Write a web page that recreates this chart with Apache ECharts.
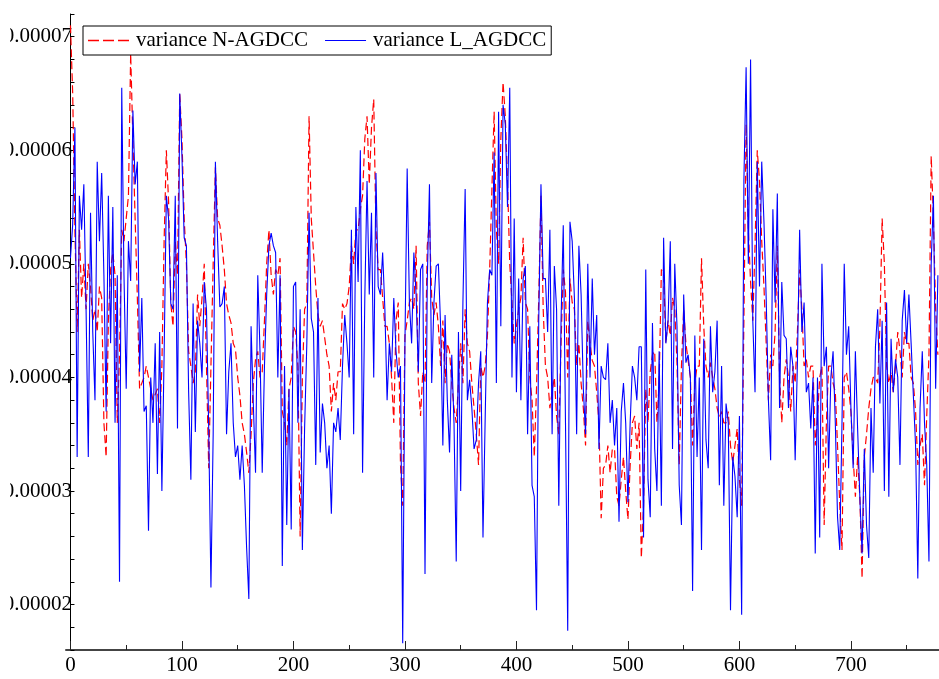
<!DOCTYPE html>
<html>
<head>
<meta charset="utf-8">
<script src="https://cdn.jsdelivr.net/npm/echarts@6/dist/echarts.min.js"></script>
<style>
  html, body { margin: 0; padding: 0; background: #fff; overflow: hidden; }
  #chart { width: 939px; height: 679px; }
</style>
</head>
<body>
<div id="chart"></div>
<script>
// values, in units of 1e-5, one every 2 samples (x = 0, 2, 4, ... 778)
const varianceN = [
  7.1, 6.5, 5.3, 4.4, 5.3, 4.7, 5.0, 4.6, 5.0, 4.8, 4.5, 4.6, 4.4, 4.8, 4.7, 3.6, 3.3, 4.5, 4.95, 5.1,
  4.9, 3.6, 4.2, 5.3, 5.2, 5.4, 5.6, 6.85, 6.1, 5.4, 4.7, 3.9, 3.95, 4.0, 4.1, 4.0, 3.9, 3.8, 3.85, 3.9,
  3.6, 4.1, 5.2, 6.0, 5.55, 4.65, 4.45,
  5.2, 4.9, 6.5, 6.1, 5.4, 5.0, 4.23, 4.1, 3.95, 4.05, 4.73, 4.45, 4.7, 5.0, 4.1, 3.2, 4.1, 5.0, 5.85, 5.4,
  5.34, 5.16, 4.95, 4.65, 4.55, 4.48, 4.3, 4.25, 4.0, 3.84, 3.6, 3.5, 3.34, 3.16, 3.5, 3.95, 4.16, 4.23, 4.0, 4.05,
  4.5, 5.0, 5.3, 4.9, 4.73, 4.95, 4.9, 5.05, 3.7, 3.6,
  3.4, 3.9, 4.0, 4.45, 4.4, 4.1, 2.6, 4.0, 4.6, 4.65, 6.3, 5.4, 5.1, 4.8, 4.55, 4.45, 4.5, 4.35, 4.2, 4.1,
  3.7, 3.95, 3.8, 4.05, 4.05, 4.65, 4.6, 4.65, 4.8, 5.16, 5.0, 5.3, 5.3, 5.48, 5.6, 6.1, 6.3, 5.7, 6.2, 6.45,
  5.3, 4.95, 4.95, 4.7, 4.45, 4.45, 4.3, 4.0, 3.6,
  4.5, 4.66, 3.23, 2.87, 4.37, 4.5, 4.66, 4.7, 4.6, 5.16, 3.95, 3.66, 4.05, 3.95, 5.16, 5.37, 4.7, 4.55, 4.66, 4.45,
  4.1, 4.5, 3.95, 4.3, 4.23, 3.95, 3.73, 3.6, 3.95, 4.3, 3.95, 4.6, 4.3, 4.23, 3.95, 3.73, 3.5, 3.23, 4.1, 4.0,
  4.1, 4.37, 4.95, 5.66, 6.34, 5.3, 5.0, 6.1, 6.6,
  6.3, 5.73, 5.0, 4.66, 4.3, 4.45, 4.6, 4.7, 5.23, 4.66, 4.6, 4.0, 3.8, 3.3, 3.9, 4.7, 5.6, 4.6, 4.1, 4.0,
  3.73, 3.87, 4.0, 3.66, 3.5, 4.3, 4.95, 4.75, 4.0, 4.87, 4.66, 4.6, 4.1, 4.3, 3.95, 3.73, 3.4, 4.5, 4.3, 4.15,
  4.1, 3.87, 3.6, 2.76, 3.2, 3.23, 3.4, 3.16, 3.37, 3.37,
  2.95, 2.87, 3.1, 3.3, 3.0, 2.75, 3.23, 3.6, 3.66, 3.37, 3.6, 2.41, 2.87, 3.9, 3.6, 4.05, 4.2, 4.23, 3.6, 3.95,
  4.95, 4.9, 4.3, 4.5, 4.37, 4.7, 4.6, 4.13, 3.23, 4.1, 4.6, 4.3, 4.15, 4.0, 3.4, 3.95, 4.1, 4.1, 5.05, 4.45,
  4.1, 4.0, 4.13, 4.0, 3.9, 3.73, 3.65, 3.7, 3.6,
  3.6, 3.7, 3.4, 3.25, 3.4, 3.55, 3.1, 2.87, 4.5, 6.23, 5.3, 4.84, 4.5, 5.16, 6.0, 5.73, 5.2, 4.8, 4.3, 3.8,
  4.2, 4.1, 4.4, 5.16, 4.0, 3.6, 4.0, 4.16, 4.0, 3.7, 4.1, 3.95, 4.4, 4.95, 4.6, 4.1, 4.16, 4.0, 4.1, 4.1,
  3.4, 3.65, 4.0, 4.1, 2.7, 3.6, 4.1, 4.1, 3.95,
  3.87, 3.4, 2.87, 2.48, 4.0, 4.05, 3.9, 3.7, 3.3, 2.95, 3.3, 2.95, 2.23, 3.3, 3.5, 3.73, 3.9, 4.0, 4.0, 3.95,
  4.45, 5.4, 5.0, 4.1, 3.95, 4.05, 3.87, 4.1, 4.4, 4.23, 4.0, 4.4, 4.3, 4.3, 4.0, 3.95, 3.7, 3.23, 3.4, 3.5,
  3.05, 3.66, 4.2, 5.95, 5.4, 4.6, 4.2
];

const varianceL = [
  5.05, 5.35, 6.2, 3.3, 5.6, 5.3, 5.7, 4.6, 3.3, 5.45, 4.4, 3.8, 5.9, 5.2, 5.8, 4.9, 3.7, 5.6, 4.3, 5.5,
  3.6, 4.9, 2.2, 6.55, 4.9, 3.9, 5.2, 4.85, 6.35, 5.7, 5.9, 4.05, 4.7, 3.7, 3.75, 2.65, 4.0, 3.6, 4.3, 3.15,
  4.4, 3.0, 4.2, 5.6, 5.4, 4.65, 4.6,
  5.6, 3.55, 6.5, 5.95, 5.23, 5.16, 3.87, 3.1, 4.65, 3.52, 4.5, 4.3, 4.0, 4.84, 4.6, 3.55, 2.15, 3.5, 5.9, 5.2,
  4.62, 4.65, 4.8, 3.5, 4.05, 4.3, 3.6, 3.3, 3.4, 3.1, 3.4, 3.05, 2.5, 2.05, 4.45, 3.77, 3.16, 4.9, 4.23, 3.16,
  4.1, 4.73, 5.16, 5.27, 5.16, 5.1, 4.0, 4.9, 2.34, 4.1,
  2.7, 3.9, 2.66, 4.8, 4.84, 3.6, 4.6, 2.48, 3.55, 4.3, 5.45, 4.52, 4.4, 3.23, 4.7, 3.34, 3.77, 3.6, 3.2, 3.4,
  2.8, 3.6, 3.52, 3.73, 3.45, 4.1, 4.55, 4.3, 4.0, 5.3, 3.5, 5.5, 4.84, 6.0, 3.16, 4.7, 5.73, 4.73, 5.45, 4.0,
  5.8, 4.8, 4.73, 5.1, 4.6, 3.8, 4.3, 4.05, 4.7,
  4.23, 4.0, 4.1, 1.66, 4.3, 5.84, 4.66, 4.3, 5.1, 4.73, 4.05, 4.95, 5.0, 2.27, 4.84, 5.7, 3.95, 4.66, 4.98, 5.0,
  4.45, 3.4, 4.55, 3.8, 3.34, 4.2, 3.6, 2.38, 4.4, 3.0, 4.66, 5.66, 3.8, 3.98, 3.73, 3.37, 3.45, 3.95, 4.23, 2.59,
  3.66, 4.66, 4.95, 4.9, 5.98, 3.95, 6.34, 4.45, 6.4,
  6.23, 5.5, 6.55, 4.0, 5.4, 3.87, 4.87, 3.8, 4.87, 4.98, 3.5, 4.45, 3.05, 2.95, 1.95, 4.5, 5.7, 4.87, 4.87, 4.4,
  5.3, 3.5, 4.98, 4.6, 2.87, 4.5, 5.34, 3.6, 1.77, 5.37, 5.2, 4.7, 3.5, 5.16, 4.73, 3.9, 3.5, 5.0, 4.0, 4.87,
  4.2, 4.55, 3.37, 4.1, 4.0, 3.98, 4.3, 3.6, 3.8, 3.4,
  3.73, 2.73, 3.7, 3.95, 3.6, 2.9, 3.6, 4.1, 4.0, 3.8, 4.27, 4.27, 2.59, 4.95, 3.1, 2.77, 4.48, 3.37, 3.0, 4.23,
  2.87, 5.23, 4.3, 4.5, 5.2, 3.37, 5.0, 4.45, 3.05, 2.7, 4.73, 4.13, 4.2, 4.0, 2.12, 4.37, 3.3, 4.0, 2.48, 4.34,
  3.45, 3.2, 4.45, 3.87, 4.05, 4.5, 3.05, 4.1, 2.87,
  3.77, 3.6, 1.95, 3.3, 3.13, 2.77, 3.66, 1.91, 5.73, 6.73, 5.0, 6.8, 4.5, 3.87, 5.9, 4.8, 5.9, 5.37, 4.7, 3.8,
  3.27, 5.48, 4.66, 5.62, 3.73, 4.84, 4.37, 4.34, 3.73, 4.27, 4.1, 3.27, 4.13, 5.3, 4.4, 4.66, 3.87, 3.95, 3.55, 4.0,
  2.45, 4.0, 2.59, 5.0, 4.1, 4.27, 3.2, 4.0, 4.23,
  3.6, 2.77, 2.48, 3.6, 5.0, 4.2, 4.45, 3.73, 3.2, 4.23, 3.55, 2.95, 2.45, 3.37, 2.7, 2.41, 3.73, 3.16, 4.27, 4.6,
  3.77, 4.5, 3.0, 4.66, 2.95, 4.34, 3.87, 4.16, 4.0, 3.23, 4.5, 4.77, 4.3, 4.73, 4.3, 3.84, 3.4, 2.23, 3.73, 4.23,
  3.6, 3.23, 2.38, 5.0, 5.6, 3.9, 4.9
];

const xLabels = [0, 100, 200, 300, 400, 500, 600, 700];
const xMinorTicks = [50, 150, 250, 350, 450, 550, 650, 750];
const seriesNames = ['variance N-AGDCC', 'variance L_AGDCC'];

const toPairs = arr => arr.map((v, i) => [i * 2, v * 1e-5]);

const serif = "'Liberation Serif', 'Times New Roman', 'DejaVu Serif', serif";
const chart = echarts.init(document.getElementById('chart'));

// legend keys drawn as plain line samples (dashed red, solid blue)
const dashedKey = 'path://M0,0h11v1.4h-11z M15,0h11v1.4h-11z M30,0h11v1.4h-11z';
const solidKey = 'path://M0,0h41v1.2h-41z';

const option = {
  animation: false,
  backgroundColor: '#fff',
  grid: { left: 66, right: 0, top: 14, bottom: 29, containLabel: false },
  // the source image is cut on its left edge, hiding the leading "0" of the y labels
  graphic: [
    { type: 'rect', left: 0, top: 0, z: 100, shape: { width: 10, height: 679 }, style: { fill: '#fff' } }
  ],
  legend: {
    left: 83,
    top: 26,
    padding: [4, 5, 4, 5],
    itemWidth: 41,
    itemHeight: 14,
    itemGap: 17,
    borderColor: '#000',
    borderWidth: 1,
    backgroundColor: '#fff',
    textStyle: { fontFamily: serif, fontSize: 21, color: '#000', padding: [0, 0, 0, 2] },
    data: [
      { name: seriesNames[0], icon: dashedKey },
      { name: seriesNames[1], icon: solidKey }
    ]
  },
  xAxis: [
    {
      type: 'value',
      min: -4,
      max: 779,
      axisLine: { show: true, lineStyle: { color: '#444', width: 2 } },
      axisTick: {
        show: true,
        inside: true,
        length: 9,
        customValues: xLabels,
        lineStyle: { color: '#222', width: 1 }
      },
      axisLabel: {
        customValues: xLabels,
        margin: 5,
        fontFamily: serif,
        fontSize: 21,
        color: '#000'
      },
      splitLine: { show: false }
    },
    {
      // minor ticks only
      type: 'value',
      position: 'bottom',
      min: -4,
      max: 779,
      axisLine: { show: false },
      axisTick: {
        show: true,
        inside: true,
        length: 5,
        customValues: xMinorTicks,
        lineStyle: { color: '#222', width: 1 }
      },
      axisLabel: { show: false },
      splitLine: { show: false }
    }
  ],
  yAxis: {
    type: 'value',
    min: 0.000016,
    max: 0.000072,
    interval: 0.000002,
    axisLine: { show: true, lineStyle: { color: '#000', width: 1 } },
    axisTick: { show: true, inside: true, length: 4, lineStyle: { color: '#000' } },
    axisLabel: {
      margin: -6,
      fontFamily: serif,
      fontSize: 21,
      color: '#000',
      formatter: v => {
        const k = v * 1e5;
        return Math.abs(k - Math.round(k)) < 1e-6 ? v.toFixed(5) : '';
      }
    },
    splitLine: { show: false }
  },
  series: [
    {
      name: seriesNames[0],
      type: 'line',
      symbol: 'none',
      data: toPairs(varianceN),
      lineStyle: { color: '#ff0000', width: 1.2, type: [8, 4] },
      itemStyle: { color: '#ff0000' }
    },
    {
      name: seriesNames[1],
      type: 'line',
      symbol: 'none',
      data: toPairs(varianceL),
      lineStyle: { color: '#0000ff', width: 1.1 },
      itemStyle: { color: '#0000ff' }
    }
  ]
};

chart.setOption(option);
</script>
</body>
</html>
